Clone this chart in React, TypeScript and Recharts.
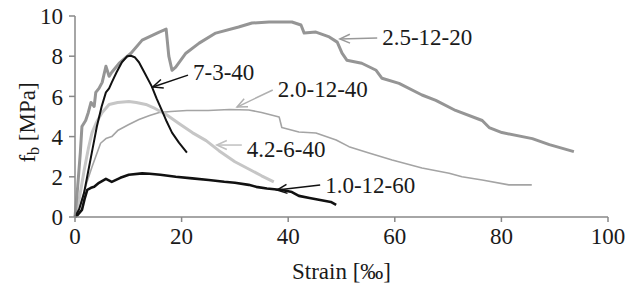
import { LineChart, Line, XAxis, YAxis, ReferenceLine } from "recharts";

// strain [‰], bond stress [MPa]
const s25_12_20: [number, number][] = [
  [0, 0], [0.5, 1.5], [1, 3.2], [1.3, 4.5], [2, 4.8], [2.5, 5.2], [3, 5.7], [3.6, 5.5], [3.9, 6.2],
  [4.5, 6.4], [5.1, 6.7], [5.8, 7.5], [6.4, 7.0], [6.9, 7.2], [8.3, 7.65], [10.5, 8.15], [12.6, 8.8],
  [15.8, 9.2], [17.1, 9.35], [17.6, 8.0], [18.2, 7.3], [18.9, 7.46], [20.8, 8.15], [23.3, 8.65],
  [26.4, 9.15], [30.7, 9.45], [33.2, 9.65], [36.4, 9.7], [40.7, 9.7], [42.4, 9.55], [43, 9.15],
  [45.2, 9.2], [47.7, 8.96], [49.2, 8.7], [50.1, 8.15], [51, 7.8], [53.8, 7.65], [56.5, 7.3],
  [57.6, 6.9], [60.8, 6.65], [65.1, 6.07], [67.7, 5.8], [71.4, 5.3], [76.4, 4.8], [77.7, 4.45],
  [80.1, 4.2], [85.8, 3.9], [89, 3.6], [93.6, 3.25],
];

const s7_3_40: [number, number][] = [
  [0, 0], [0.8, 0.4], [1.7, 1.2], [2.5, 2.3], [3.3, 3.4], [4.1, 4.5], [5, 5.5], [5.8, 6.2], [6.4, 6.4],
  [6.9, 6.7], [7.8, 7.2], [8.8, 7.7], [9.8, 8.0], [10.5, 8.02], [11.2, 7.95], [12, 7.7], [13, 7.2],
  [14.4, 6.5], [15.3, 5.9], [16.3, 5.3], [17.2, 4.75], [18.2, 4.2], [19.5, 3.7], [21, 3.2],
];

const s42_6_40: [number, number][] = [
  [0, 0], [0.8, 0.9], [1.7, 2.3], [2.5, 3.4], [3.2, 4.2], [4, 4.7], [5.1, 5.2], [6.4, 5.6], [8, 5.7],
  [10.1, 5.75], [11.5, 5.7], [13.3, 5.6], [15, 5.4], [17.1, 5.1], [19.5, 4.65], [22, 4.2], [24.6, 3.8],
  [27, 3.3], [30, 2.75], [32.5, 2.4], [35, 2.05], [37.3, 1.75],
];

const s20_12_40: [number, number][] = [
  [0, 0], [0.6, 0.3], [1.3, 0.85], [2.2, 1.7], [3.2, 2.5], [4.8, 3.67], [5.8, 3.9], [6.9, 4.0], [8, 4.3],
  [10.1, 4.6], [12, 4.85], [14, 5.05], [15.8, 5.2], [18, 5.25], [21, 5.3], [25, 5.3], [29, 5.35],
  [32.6, 5.32], [35, 5.2], [38.3, 4.98], [38.8, 4.45], [42, 4.23], [45.2, 4.18], [49, 3.83], [51.4, 3.5],
  [55, 3.2], [59.5, 2.84], [65.1, 2.44], [70.2, 2.18], [72.6, 2.0], [76.4, 1.84], [81.4, 1.6], [85.7, 1.6],
];

const s10_12_60: [number, number][] = [
  [0, 0], [0.5, 0.1], [1.3, 0.35], [1.8, 0.9], [2.3, 1.35], [3, 1.45], [3.6, 1.5], [4.5, 1.7], [5.8, 1.9],
  [6.9, 1.75], [8.5, 1.95], [10.1, 2.1], [12.6, 2.17], [14, 2.15], [16, 2.1], [18.9, 2.0], [22, 1.92],
  [25.1, 1.84], [28, 1.75], [30, 1.7], [32.6, 1.6], [34, 1.5], [36, 1.42], [38.8, 1.34], [40.7, 1.24],
  [42, 1.05], [44, 0.95], [46, 0.85], [48, 0.75], [49, 0.6],
];

const xTicks = [0, 20, 40, 60, 80, 100];
const yTicks = [0, 2, 4, 6, 8, 10];

const FONT = "'Liberation Serif', 'Times New Roman', serif";
const FS = 23;

const toPoints = (arr: [number, number][]) => arr.map(([x, y]) => ({ x, y }));

const series = [
  { name: "2.0-12-40", data: s20_12_40, color: "#a4a4a4", width: 1.6 },
  { name: "4.2-6-40", data: s42_6_40, color: "#c6c6c6", width: 3 },
  { name: "2.5-12-20", data: s25_12_20, color: "#959595", width: 3 },
  { name: "7-3-40", data: s7_3_40, color: "#111111", width: 2 },
  { name: "1.0-12-60", data: s10_12_60, color: "#111111", width: 2.6 },
];

// label arrows: start near text -> tip on curve (data coords)
const notes = [
  { text: "7-3-40", from: [21.2, 7.06], to: [14.6, 6.47], color: "#111111", dy: -3 },
  { text: "2.5-12-20", from: [56.7, 8.9], to: [49.7, 8.86], color: "#999999", dy: -1 },
  { text: "2.0-12-40", from: [37.1, 6.32], to: [30.4, 5.47], color: "#b0b0b0", dy: 0 },
  { text: "4.2-6-40", from: [31.3, 3.58], to: [26.6, 3.58], color: "#c0c0c0", dy: 4 },
  { text: "1.0-12-60", from: [46, 1.59], to: [37.9, 1.34], color: "#111111", dy: 0 },
];

const arrowShape = (note: (typeof notes)[number]) => (p: any) => {
  const { x1, y1, x2, y2 } = p;
  const ang = Math.atan2(y1 - y2, x1 - x2);
  const len = 11;
  const spread = 0.42;
  const a1 = [x2 + len * Math.cos(ang + spread), y2 + len * Math.sin(ang + spread)];
  const a2 = [x2 + len * Math.cos(ang - spread), y2 + len * Math.sin(ang - spread)];
  return (
    <g>
      <line x1={x1} y1={y1} x2={x2} y2={y2} stroke={note.color} strokeWidth={1.5} />
      <polyline
        points={`${a1[0]},${a1[1]} ${x2},${y2} ${a2[0]},${a2[1]}`}
        fill="none"
        stroke={note.color}
        strokeWidth={1.5}
      />
      <text
        x={x1 + 5}
        y={y1 + note.dy}
        fontFamily={FONT}
        fontSize={FS}
        fill="#1a1a1a"
        dominantBaseline="central"
      >
        {note.text}
      </text>
    </g>
  );
};

const YLabel = (props: any) => {
  const vb = props.viewBox || { x: 0, y: 16, width: 75, height: 201 };
  const x = vb.x + 27;
  const y = vb.y + vb.height / 2 + 6;
  return (
    <text
      x={x}
      y={y}
      transform={`rotate(-90 ${x} ${y})`}
      textAnchor="middle"
      dominantBaseline="central"
      fontFamily={FONT}
      fontSize={FS}
      fill="#1a1a1a"
    >
      f<tspan dy={6} fontSize={16}>b</tspan>
      <tspan dy={-6}> [MPa]</tspan>
    </text>
  );
};

const App = () => {
  return (
    <div style={{ position: "absolute", left: 0, top: 0, background: "#fff" }}>
      <LineChart width={630} height={286} margin={{ top: 16, right: 22, bottom: 0, left: 0 }}>
        <XAxis
          type="number"
          dataKey="x"
          domain={[0, 100]}
          ticks={xTicks}
          height={69}
          stroke="#888888"
          strokeWidth={1.5}
          tickSize={5}
          tickMargin={6}
          tick={{ fontSize: FS, fontFamily: FONT, fill: "#1a1a1a" }}
          label={{
            value: "Strain [‰]",
            position: "insideBottom",
            offset: 7,
            fontSize: FS,
            fontFamily: FONT,
            fill: "#1a1a1a",
          }}
        />
        <YAxis
          type="number"
          domain={[0, 10]}
          ticks={yTicks}
          width={75}
          stroke="#888888"
          strokeWidth={1.5}
          tickSize={6}
          tickMargin={6}
          tick={{ fontSize: FS, fontFamily: FONT, fill: "#1a1a1a" }}
          label={{ content: YLabel }}
        />
        {series.map((s) => (
          <Line
            key={s.name}
            data={toPoints(s.data)}
            dataKey="y"
            type="linear"
            stroke={s.color}
            strokeWidth={s.width}
            strokeLinejoin="round"
            dot={false}
            isAnimationActive={false}
          />
        ))}
        {notes.map((n) => (
          <ReferenceLine
            key={n.text}
            segment={[
              { x: n.from[0], y: n.from[1] },
              { x: n.to[0], y: n.to[1] },
            ]}
            shape={arrowShape(n)}
            ifOverflow="visible"
          />
        ))}
      </LineChart>
    </div>
  );
};

export default App;
